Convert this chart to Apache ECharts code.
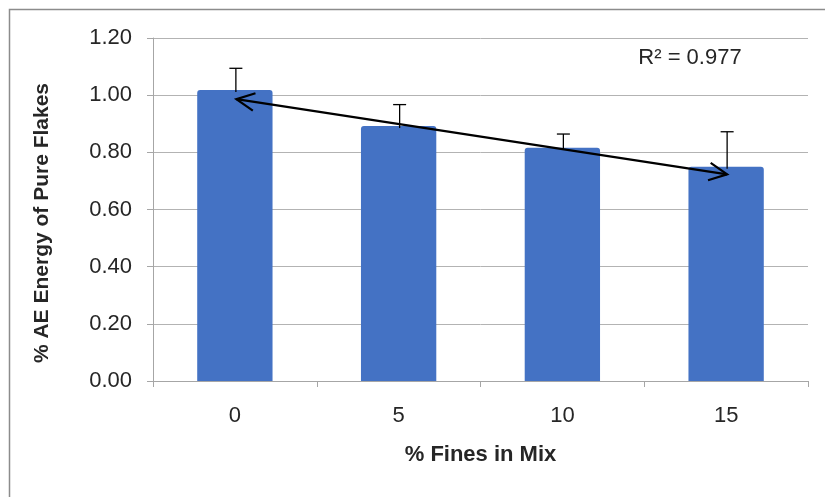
<!DOCTYPE html>
<html>
<head>
<meta charset="utf-8">
<script src="https://cdn.jsdelivr.net/npm/echarts@6/dist/echarts.min.js"></script>
<style>
html,body{margin:0;padding:0;background:#fff;}
#chart{width:825px;height:497px;}
</style>
</head>
<body>
<div id="chart"></div>
<script>
var categories = ['0', '5', '10', '15'];
var energyValues = [1.018, 0.892, 0.816, 0.750];
var errorPlus = [0.076, 0.075, 0.048, 0.122];
var trendEnds = [0.986, 0.723];
var yTicks = { min: 0, max: 1.2, interval: 0.2 };
var r2Label = 'R\u00B2 = 0.977';
var xTitle = '% Fines in Mix';
var yTitle = '% AE Energy of Pure Flakes';

var chart = echarts.init(document.getElementById('chart'));

var errData = energyValues.map(function (v, i) { return [i, v, errorPlus[i]]; });
var trendData = [[0, trendEnds[0], categories.length - 1, trendEnds[1]]];

var labelFont = '"Liberation Sans", Arial, sans-serif';

var option = {
  animation: false,
  backgroundColor: '#ffffff',
  grid: { left: 153, right: 17, top: 38, bottom: 116, containLabel: false },
  xAxis: {
    type: 'category',
    data: categories,
    boundaryGap: true,
    axisLine: { show: true, lineStyle: { color: '#a6a6a6', width: 1 } },
    axisTick: { show: true, alignWithLabel: false, length: 6, lineStyle: { color: '#a6a6a6' } },
    axisLabel: { margin: 24, fontSize: 22, color: '#262626', fontFamily: labelFont },
    name: xTitle,
    nameLocation: 'middle',
    nameGap: 63,
    nameTextStyle: { fontSize: 22, fontWeight: 'bold', color: '#262626', fontFamily: labelFont }
  },
  yAxis: {
    type: 'value',
    min: yTicks.min,
    max: yTicks.max,
    interval: yTicks.interval,
    axisLine: { show: true, lineStyle: { color: '#a6a6a6', width: 1 } },
    axisTick: { show: true, length: 6, lineStyle: { color: '#a6a6a6' } },
    splitLine: { show: true, lineStyle: { color: '#b3b3b3', width: 1 } },
    axisLabel: {
      margin: 21, fontSize: 22, color: '#262626', fontFamily: labelFont,
      formatter: function (v) { return v.toFixed(2); }
    }
  },
  graphic: [
    {
      type: 'rect', silent: true, z: -10,
      shape: { x: 9.5, y: 9.5, width: 840, height: 520 },
      style: { fill: 'none', stroke: '#8c8c8c', lineWidth: 1.5 }
    },
    {
      type: 'text', silent: true,
      x: 42, y: 223, rotation: Math.PI / 2,
      style: {
        text: yTitle, fontSize: 21, fontWeight: 'bold', fill: '#262626',
        fontFamily: labelFont, align: 'center', verticalAlign: 'middle'
      }
    },
    {
      type: 'text', silent: true,
      x: 690, y: 58,
      style: {
        text: r2Label, fontSize: 22, fill: '#262626',
        fontFamily: labelFont, align: 'center', verticalAlign: 'middle'
      }
    }
  ],
  series: [
    {
      type: 'bar',
      data: energyValues,
      barWidth: '46%',
      itemStyle: { color: '#4472C4', borderRadius: [3, 3, 0, 0] },
      z: 2
    },
    {
      type: 'custom',
      data: errData,
      clip: false,
      z: 3,
      renderItem: function (params, api) {
        var x = api.value(0), v = api.value(1), e = api.value(2);
        var p0 = api.coord([x, v]);
        var p1 = api.coord([x, v + e]);
        var hw = 6.5;
        return {
          type: 'group',
          children: [
            { type: 'line', shape: { x1: p0[0] + 1, y1: p0[1] + 2, x2: p1[0] + 1, y2: p1[1] },
              style: { stroke: '#000', lineWidth: 1.3 } },
            { type: 'line', shape: { x1: p1[0] + 1 - hw, y1: p1[1], x2: p1[0] + 1 + hw, y2: p1[1] },
              style: { stroke: '#000', lineWidth: 1.3 } }
          ]
        };
      }
    },
    {
      type: 'custom',
      data: trendData,
      clip: false,
      z: 4,
      renderItem: function (params, api) {
        var a = api.coord([api.value(0), api.value(1)]);
        var b = api.coord([api.value(2), api.value(3)]);
        a[0] += 1.5; b[0] += 1;
        var dx = b[0] - a[0], dy = b[1] - a[1];
        var ang = Math.atan2(dy, dx);
        var L = 20, h = 26 * Math.PI / 180;
        function head(tip, dir) {
          var p1 = [tip[0] + L * Math.cos(dir + h), tip[1] + L * Math.sin(dir + h)];
          var p2 = [tip[0] + L * Math.cos(dir - h), tip[1] + L * Math.sin(dir - h)];
          return { type: 'polyline', shape: { points: [p1, tip, p2] },
                   style: { stroke: '#000', lineWidth: 2.2, fill: null, lineJoin: 'miter' } };
        }
        return {
          type: 'group',
          children: [
            { type: 'line', shape: { x1: a[0], y1: a[1], x2: b[0], y2: b[1] },
              style: { stroke: '#000', lineWidth: 2.2 } },
            head(a, ang),
            head(b, ang + Math.PI)
          ]
        };
      }
    }
  ]
};
chart.setOption(option);
</script>
</body>
</html>
